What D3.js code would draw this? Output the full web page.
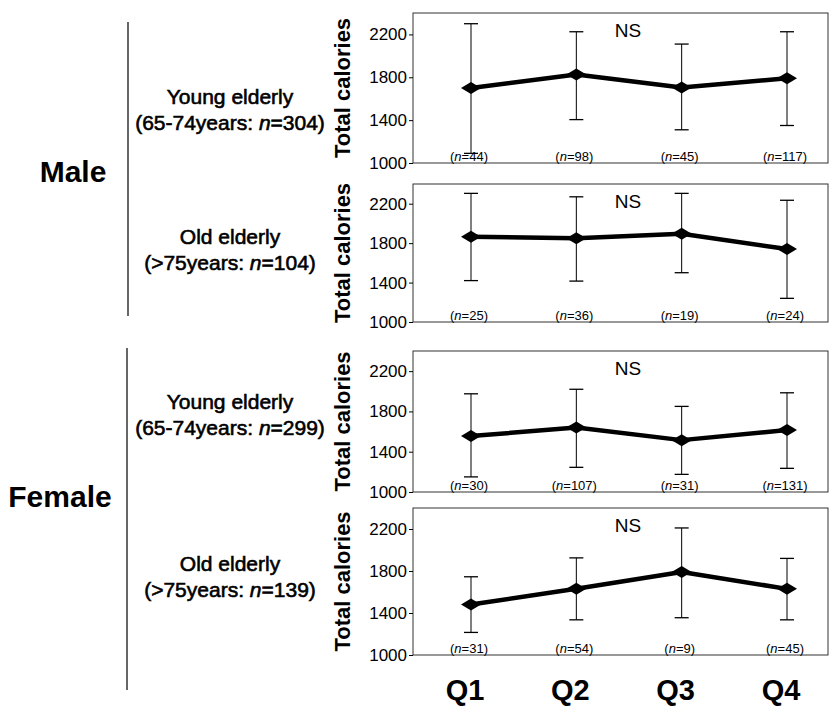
<!DOCTYPE html>
<html>
<head>
<meta charset="utf-8">
<script src="https://cdn.jsdelivr.net/npm/d3@7"></script>
<style>
  html, body { margin: 0; padding: 0; background: #fff; }
  svg { display: block; }
  text { font-family: "Liberation Sans", Arial, sans-serif; fill: #000; }
</style>
</head>
<body>
<svg id="chart" width="838" height="720"></svg>
<script>
// ---- data ----
const quarters = ["Q1", "Q2", "Q3", "Q4"];
const yTicks = [1000, 1400, 1800, 2200];

const maleYoungMean  = [1700, 1825, 1705, 1790];
const maleYoungUpper = [2300, 2225, 2110, 2225];
const maleYoungLower = [1090, 1405, 1310, 1350];
const maleYoungN     = [44, 98, 45, 117];

const maleOldMean  = [1865, 1850, 1895, 1740];
const maleOldUpper = [2305, 2270, 2305, 2235];
const maleOldLower = [1420, 1415, 1500, 1240];
const maleOldN     = [25, 36, 19, 24];

const femYoungMean  = [1555, 1640, 1515, 1615];
const femYoungUpper = [1975, 2020, 1850, 1985];
const femYoungLower = [1150, 1245, 1175, 1235];
const femYoungN     = [30, 107, 31, 131];

const femOldMean  = [1480, 1630, 1790, 1630];
const femOldUpper = [1745, 1925, 2210, 1920];
const femOldLower = [1215, 1335, 1355, 1335];
const femOldN     = [31, 54, 9, 45];

const sexLabels = ["Male", "Female"];
const subTitles = ["Young elderly", "Old elderly", "Young elderly", "Old elderly"];
const subAges   = ["65-74years", ">75years", "65-74years", ">75years"];
const subN      = [304, 104, 299, 139];
const sigLabels = ["NS", "NS", "NS", "NS"];
const yTitle = "Total calories";

// ---- layout ----
const svg = d3.select("#chart");
const panelLeft = 413, panelRight = 828;
const panelTops = [13, 184, 351, 508];
const panelBottoms = [163, 322, 492, 655];

const panels = [
  {mean: maleYoungMean, up: maleYoungUpper, lo: maleYoungLower, n: maleYoungN},
  {mean: maleOldMean, up: maleOldUpper, lo: maleOldLower, n: maleOldN},
  {mean: femYoungMean, up: femYoungUpper, lo: femYoungLower, n: femYoungN},
  {mean: femOldMean, up: femOldUpper, lo: femOldLower, n: femOldN}
];

const x = d3.scalePoint().domain(quarters).range([471, 787]);

panels.forEach((p, i) => {
  const top = panelTops[i], bottom = panelBottoms[i];
  const y = d3.scaleLinear().domain([1000, 2400]).range([bottom, top]);
  const g = svg.append("g");

  // frame
  g.append("rect")
    .attr("x", panelLeft).attr("y", top)
    .attr("width", panelRight - panelLeft).attr("height", bottom - top)
    .attr("fill", "none").attr("stroke", "#333").attr("stroke-width", 1);

  // y axis
  const ax = g.append("g")
    .attr("transform", `translate(${panelLeft},0)`)
    .call(d3.axisLeft(y).tickValues(yTicks).tickSize(4).tickPadding(2).tickFormat(d3.format("d")));
  ax.select(".domain").remove();
  ax.selectAll(".tick line").attr("stroke", "#000");
  ax.selectAll(".tick text")
    .style("font-family", '"Liberation Sans", Arial, sans-serif')
    .style("font-size", "17px").attr("fill", "#000");

  // y title
  g.append("text")
    .attr("transform", `translate(350,${(top + bottom) / 2}) rotate(-90)`)
    .attr("text-anchor", "middle")
    .style("font-size", "22px").style("font-weight", "bold")
    .text(yTitle);

  // NS
  g.append("text")
    .attr("x", 628).attr("y", top + 24)
    .attr("text-anchor", "middle")
    .style("font-size", "19px")
    .text(sigLabels[i]);

  const data = quarters.map((q, k) => ({q, m: p.mean[k], u: p.up[k], l: p.lo[k], n: p.n[k]}));

  // error bars
  const eb = g.selectAll(".eb").data(data).enter().append("g");
  eb.append("line")
    .attr("x1", d => x(d.q)).attr("x2", d => x(d.q))
    .attr("y1", d => y(d.u)).attr("y2", d => y(d.l))
    .attr("stroke", "#000").attr("stroke-width", 1);
  eb.append("line")
    .attr("x1", d => x(d.q) - 7).attr("x2", d => x(d.q) + 7)
    .attr("y1", d => y(d.u)).attr("y2", d => y(d.u))
    .attr("stroke", "#000").attr("stroke-width", 1.3);
  eb.append("line")
    .attr("x1", d => x(d.q) - 7).attr("x2", d => x(d.q) + 7)
    .attr("y1", d => y(d.l)).attr("y2", d => y(d.l))
    .attr("stroke", "#000").attr("stroke-width", 1.3);

  // mean line
  g.append("path")
    .datum(data)
    .attr("d", d3.line().x(d => x(d.q)).y(d => y(d.m)))
    .attr("fill", "none").attr("stroke", "#000").attr("stroke-width", 4.5)
    .attr("stroke-linejoin", "round");

  // diamond markers
  g.selectAll(".pt").data(data).enter().append("path")
    .attr("transform", d => `translate(${x(d.q)},${y(d.m)})`)
    .attr("d", "M-10,0 L0,-6 L10,0 L0,6 Z")
    .attr("fill", "#000");

  // n labels
  const nt = g.selectAll(".nl").data(data).enter().append("text")
    .attr("x", d => x(d.q) - 2).attr("y", bottom - 2)
    .attr("text-anchor", "middle")
    .style("font-size", "13px");
  nt.append("tspan").text("(");
  nt.append("tspan").style("font-style", "italic").text("n");
  nt.append("tspan").text(d => "=" + d.n + ")");
});

// quarter labels
svg.selectAll(".ql").data(quarters).enter().append("text")
  .attr("x", d => x(d) - 6).attr("y", 700)
  .attr("text-anchor", "middle")
  .style("font-size", "29px").style("font-weight", "bold")
  .text(d => d);

// left bracket lines
svg.append("line").attr("x1", 128).attr("x2", 128).attr("y1", 22).attr("y2", 316)
  .attr("stroke", "#000").attr("stroke-width", 1.2);
svg.append("line").attr("x1", 127).attr("x2", 127).attr("y1", 348).attr("y2", 690)
  .attr("stroke", "#000").attr("stroke-width", 1.2);

// sex labels
const sexY = [182, 507];
const sexX = [73, 60];
sexLabels.forEach((s, i) => {
  svg.append("text").attr("x", sexX[i]).attr("y", sexY[i])
    .attr("text-anchor", "middle")
    .style("font-size", "30px").style("font-weight", "bold")
    .text(s);
});

// subgroup labels
const subY = [104, 244, 409, 571];
subTitles.forEach((t, i) => {
  svg.append("text").attr("x", 230).attr("y", subY[i])
    .attr("text-anchor", "middle")
    .style("font-size", "21px")
    .attr("stroke", "#000").attr("stroke-width", 0.6)
    .text(t);
  const t2 = svg.append("text").attr("x", 230).attr("y", subY[i] + 26)
    .attr("text-anchor", "middle")
    .style("font-size", "21px")
    .attr("stroke", "#000").attr("stroke-width", 0.6);
  t2.append("tspan").text("(" + subAges[i] + ": ");
  t2.append("tspan").style("font-style", "italic").text("n");
  t2.append("tspan").text("=" + subN[i] + ")");
});
</script>
</body>
</html>
